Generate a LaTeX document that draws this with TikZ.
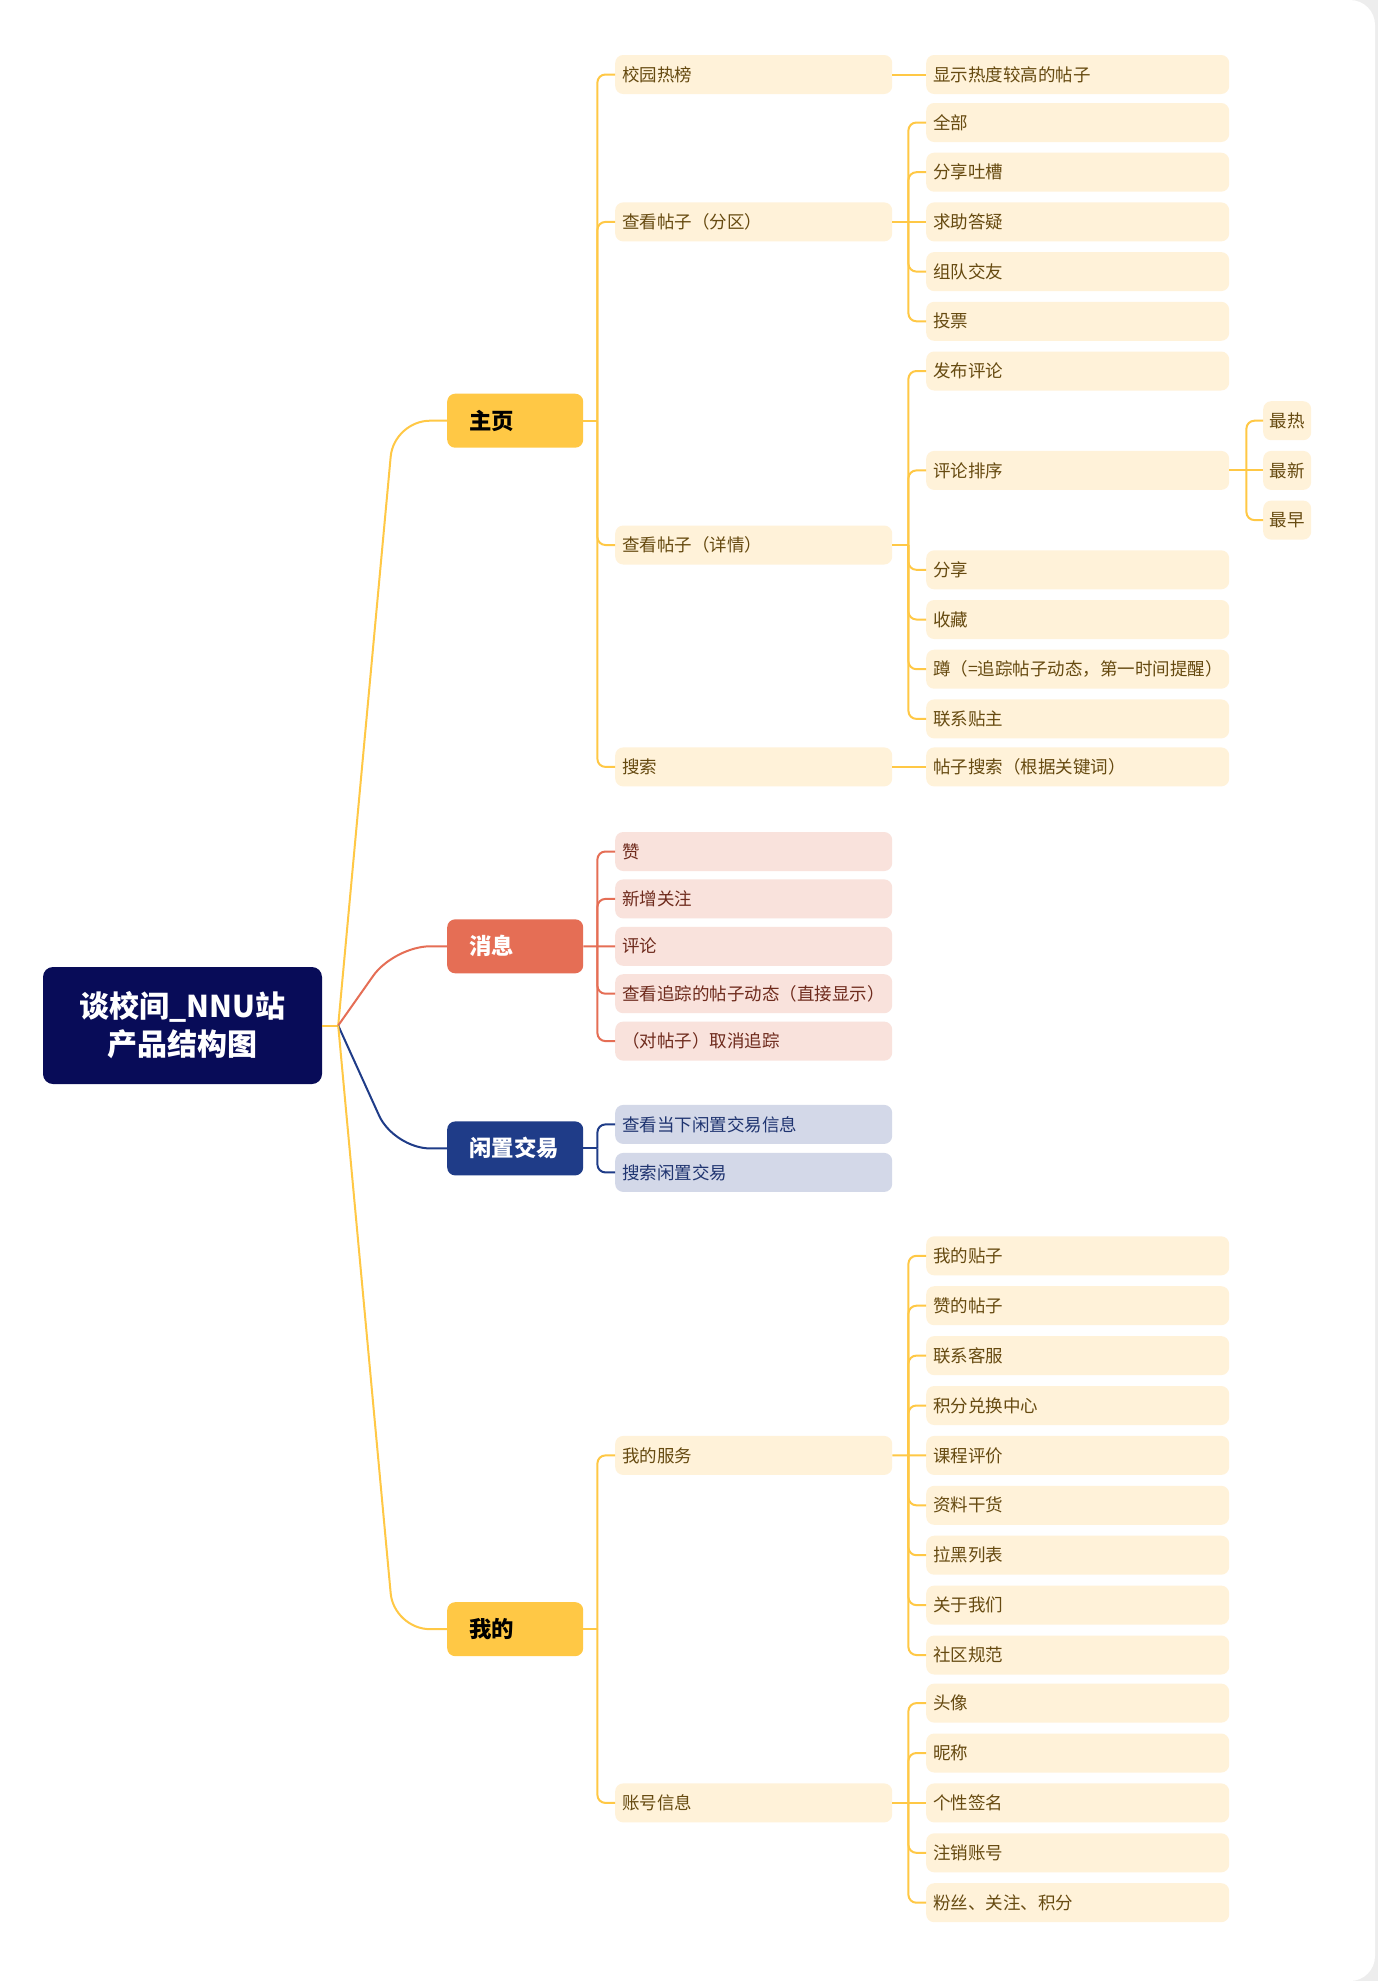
\documentclass[tikz,border=0pt]{standalone}
\usepackage{fontspec}
\setmainfont{Noto Sans CJK SC}
\usetikzlibrary{positioning,calc}

\definecolor{pagegray}{HTML}{EDEDED}
\definecolor{rootblue}{HTML}{080C58}
\definecolor{amber}{HTML}{FFC845}
\definecolor{amberfill}{HTML}{FFF2D9}
\definecolor{ambertext}{HTML}{664A10}
\definecolor{coral}{HTML}{E56E55}
\definecolor{coralfill}{HTML}{F9E2DC}
\definecolor{coraltext}{HTML}{6E2A1C}
\definecolor{navy}{HTML}{1F3C88}
\definecolor{navyfill}{HTML}{D3D8E8}
\definecolor{navytext}{HTML}{1F3470}

\tikzset{
  rootbox/.style={fill=rootblue, text=white, rounded corners=10pt,
    minimum width=279pt, minimum height=117pt, align=center,
    font=\fontsize{30}{38}\selectfont\bfseries},
  topic/.style={anchor=west, rounded corners=8pt, minimum height=54pt,
    text width=92pt, inner xsep=22pt, align=left,
    font=\fontsize{22.4}{26}\selectfont\bfseries},
  sub/.style={anchor=west, rounded corners=8pt, minimum height=39pt,
    text width=263pt, inner xsep=7pt, align=left,
    font=\fontsize{17.5}{21}\selectfont},
  leaf/.style={sub, text width=289pt},
  tip/.style={anchor=west, rounded corners=8pt, minimum height=39pt,
    minimum width=48pt, inner xsep=6pt, font=\fontsize{17.5}{21}\selectfont},
  homebox/.style={fill=amberfill, text=ambertext},
  msgbox/.style={fill=coralfill, text=coraltext},
  tradebox/.style={fill=navyfill, text=navytext},
  homeline/.style={draw=amber, line width=2pt, rounded corners=8pt},
  msgline/.style={draw=coral, line width=2pt, rounded corners=8pt},
  tradeline/.style={draw=navy, line width=2pt, rounded corners=8pt},
}

\begin{document}
\begin{tikzpicture}[x=1pt,y=-1pt]
\useasboundingbox (0,0) rectangle (1378,1981);
% page
\fill[pagegray] (0,0) rectangle (1378,1981);
\fill[white, rounded corners=25pt] (-30,0) rectangle (1375,1981);

% root and main topics
\node[rootbox] (root) at (182.5,1025.5) {谈校间\_NNU站\\产品结构图};
\node[topic, fill=amber, text=black] (home) at (447,420.7) {主页};
\node[topic, fill=coral, text=white] (msg) at (447,946.3) {消息};
\node[topic, fill=navy, text=white] (trade) at (447,1148.4) {闲置交易};
\node[topic, fill=amber, text=black] (mine) at (447,1629.15) {我的};

% 主页
\node[sub, homebox] (hot) at (615,74.5) {校园热榜};
\node[sub, homebox] (zone) at (615,221.9) {查看帖子（分区）};
\node[sub, homebox] (detail) at (615,545) {查看帖子（详情）};
\node[sub, homebox] (search) at (615,766.9) {搜索};

\node[leaf, homebox] (hotpost) at (926,74.5) {显示热度较高的帖子};
\foreach \n/\txt [count=\i from 0] in {zall/全部, zshare/分享吐槽, zhelp/求助答疑, zteam/组队交友, zvote/投票}
  \node[leaf, homebox] (\n) at (926,122.5+49.7*\i) {\txt};
\foreach \n/\txt/\row in {dpost/发布评论/5, dsort/评论排序/7, dshare/分享/9, dfav/收藏/10, dtrack/蹲（=追踪帖子动态，第一时间提醒）/11, dcontact/联系贴主/12}
  \node[leaf, homebox] (\n) at (926,122.5+49.7*\row) {\txt};
\foreach \n/\txt [count=\i from 6] in {dhot/最热, dnew/最新, dold/最早}
  \node[tip, homebox] (\n) at (1263,122.5+49.7*\i) {\txt};
\node[leaf, homebox] (sfind) at (926,766.9) {帖子搜索（根据关键词）};

% 消息
\foreach \n/\txt [count=\i from 0] in {mlike/赞, mfollow/新增关注, mcomment/评论, mtrack/查看追踪的帖子动态（直接显示）, muntrack/（对帖子）取消追踪}
  \node[sub, msgbox] (\n) at (615,851.5+47.4*\i) {\txt};

% 闲置交易
\node[sub, tradebox] (tnow) at (615,1124.4) {查看当下闲置交易信息};
\node[sub, tradebox] (tsearch) at (615,1172.4) {搜索闲置交易};

% 我的
\node[sub, homebox] (service) at (615,1455.4) {我的服务};
\node[sub, homebox] (account) at (615,1802.9) {账号信息};
\foreach \n/\txt [count=\i from 0] in {mypost/我的贴子, mliked/赞的帖子, msupport/联系客服, mpoints/积分兑换中心, mcourse/课程评价, mnotes/资料干货, mblock/拉黑列表, mabout/关于我们, mrules/社区规范}
  \node[leaf, homebox] (\n) at (926,1255.8+49.9*\i) {\txt};
\foreach \n/\txt [count=\i from 0] in {avatar/头像, nick/昵称, sign/个性签名, cancel/注销账号, fans/粉丝、关注、积分}
  \node[leaf, homebox] (\n) at (926,1703.1+49.9*\i) {\txt};

% root links
\coordinate (hub) at ($(root.east)+(16,0)$);
\coordinate (bend) at (394,0);
\draw[homeline] (root.east) -- (hub);
\draw[homeline, rounded corners=36pt] (hub) -- (bend |- home.west) -- (home.west);
\draw[msgline, rounded corners=36pt] (hub) -- (bend |- msg.west) -- (msg.west);
\draw[tradeline, rounded corners=36pt] (hub) -- (bend |- trade.west) -- (trade.west);
\draw[homeline, rounded corners=36pt] (hub) -- (bend |- mine.west) -- (mine.west);

% 主页 links
\coordinate (home-t) at ($(home.east)+(14,0)$);
\draw[homeline] (home.east) -- (home-t);
\foreach \n in {hot,zone,detail,search}
  \draw[homeline] (home-t) |- (\n.west);
\draw[homeline] (hot.east) -- (hotpost.west);
\draw[homeline] (search.east) -- (sfind.west);

\coordinate (zone-t) at ($(zone.east)+(16,0)$);
\draw[homeline] (zone.east) -- (zhelp.west);
\foreach \n in {zall,zshare,zteam,zvote}
  \draw[homeline] (zone-t) |- (\n.west);

\coordinate (detail-t) at ($(detail.east)+(16,0)$);
\draw[homeline] (detail.east) -- (detail-t);
\foreach \n in {dpost,dsort,dshare,dfav,dtrack,dcontact}
  \draw[homeline] (detail-t) |- (\n.west);

\coordinate (dsort-t) at ($(dsort.east)+(17,0)$);
\draw[homeline] (dsort.east) -- (dnew.west);
\foreach \n in {dhot,dold}
  \draw[homeline] (dsort-t) |- (\n.west);

% 消息 links
\coordinate (msg-t) at ($(msg.east)+(14,0)$);
\draw[msgline] (msg.east) -- (mcomment.west);
\foreach \n in {mlike,mfollow,mtrack,muntrack}
  \draw[msgline] (msg-t) |- (\n.west);

% 闲置交易 links
\coordinate (trade-t) at ($(trade.east)+(14,0)$);
\draw[tradeline] (trade.east) -- (trade-t);
\foreach \n in {tnow,tsearch}
  \draw[tradeline] (trade-t) |- (\n.west);

% 我的 links
\coordinate (mine-t) at ($(mine.east)+(14,0)$);
\draw[homeline] (mine.east) -- (mine-t);
\foreach \n in {service,account}
  \draw[homeline] (mine-t) |- (\n.west);

\coordinate (service-t) at ($(service.east)+(16,0)$);
\draw[homeline] (service.east) -- (mcourse.west);
\foreach \n in {mypost,mliked,msupport,mpoints,mnotes,mblock,mabout,mrules}
  \draw[homeline] (service-t) |- (\n.west);

\coordinate (account-t) at ($(account.east)+(16,0)$);
\draw[homeline] (account.east) -- (sign.west);
\foreach \n in {avatar,nick,cancel,fans}
  \draw[homeline] (account-t) |- (\n.west);
\end{tikzpicture}
\end{document}
